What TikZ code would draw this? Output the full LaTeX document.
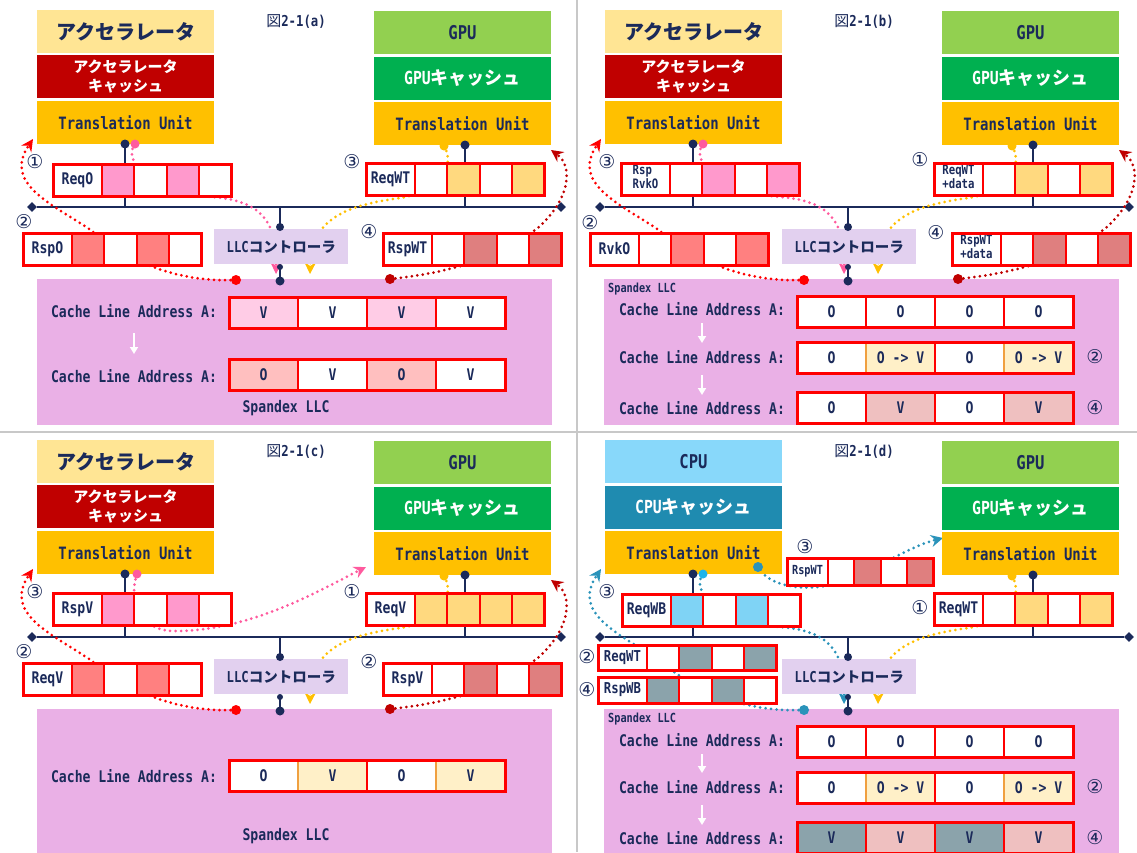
\documentclass[tikz,border=0pt]{standalone}
\usepackage{fontspec}
\setmainfont{Noto Sans CJK JP}
\newfontfamily\myjp{Noto Sans CJK JP}
\newfontfamily\mymono[FakeStretch=0.82]{DejaVu Sans Mono}
\newfontfamily\mycirc{DejaVu Sans}
\usetikzlibrary{shapes.geometric,arrows.meta}
\newcommand\fs[2]{\fontsize{#1}{#2}\selectfont}
\definecolor{cnavy}{HTML}{1B2A5A}
\definecolor{cred}{HTML}{FF0000}
\definecolor{cdred}{HTML}{C00000}
\definecolor{caccy}{HTML}{FFE594}
\definecolor{caccr}{HTML}{C00000}
\definecolor{ctu}{HTML}{FFC000}
\definecolor{cgpul}{HTML}{92D050}
\definecolor{cgpud}{HTML}{00B050}
\definecolor{ccpul}{HTML}{88D8FA}
\definecolor{ccpud}{HTML}{1F8BB0}
\definecolor{cllc}{HTML}{EAB0E6}
\definecolor{cctrl}{HTML}{E2D0EF}
\definecolor{cpinkd}{HTML}{FF5A9E}
\definecolor{cteal}{HTML}{2A93BA}
\definecolor{ccyan}{HTML}{1EB4EA}
\definecolor{pk}{HTML}{FF99CC}
\definecolor{sa}{HTML}{FF8080}
\definecolor{dp}{HTML}{DF7F7F}
\definecolor{ye}{HTML}{FFD97F}
\definecolor{bl}{HTML}{7FD3F5}
\definecolor{gr}{HTML}{8BA3AB}
\definecolor{lpk}{HTML}{FFCCE6}
\definecolor{lsa}{HTML}{FFBFBF}
\definecolor{lye}{HTML}{FFF0C8}
\definecolor{lro}{HTML}{EFC0C0}
\definecolor{cor}{HTML}{F0A040}
\definecolor{csep}{HTML}{C8C8C8}
\tikzset{
  compbox/.style={anchor=north west, minimum width=177, minimum height=43, inner sep=0pt, outer sep=0pt, align=center},
  titlejp/.style={font=\myjp\bfseries\fs{20}{24}, text=cnavy},
  titlemono/.style={font=\mymono\bfseries\fs{19}{22}, text=cnavy},
  cachetxt/.style={font=\myjp\bfseries\fs{15}{19}, text=white},
  cachemix/.style={font=\myjp\bfseries\fs{18}{22}, text=white},
  tutxt/.style={font=\mymono\bfseries\fs{17}{20}, text=cnavy},
  pcell/.style={anchor=north west, draw=cred, line width=2pt, inner sep=0pt, outer sep=0pt, align=center, text=cnavy, font=\mymono\bfseries\fs{16}{17}},
  lcell/.style={anchor=north west, line width=2pt, minimum width=69, minimum height=31, inner sep=0pt, outer sep=0pt, text=cnavy, font=\mymono\bfseries\fs{16}{18}},
  cnum/.style={font=\mycirc\fs{19}{20}, text=cnavy, inner sep=0pt},
  ctrlbox/.style={anchor=north west, fill=cctrl, minimum width=134, minimum height=35, inner sep=0pt, text=cnavy},
  llcbox/.style={anchor=north west, fill=cllc, minimum width=515, minimum height=146, inner sep=0pt, outer sep=0pt},
  cla/.style={font=\mymono\bfseries\fs{16}{18}, text=cnavy, inner sep=0pt},
  smallsp/.style={font=\mymono\bfseries\fs{12.5}{14}, text=cnavy, inner sep=0pt, anchor=west},
  figlbl/.style={text=cnavy, inner sep=0pt},
  busline/.style={draw=cnavy, line width=2.4pt},
  busend/.style={diamond, fill=cnavy, minimum width=10, minimum height=10, inner sep=0pt},
  ndot/.style={circle, fill=cnavy, inner sep=0pt},
  cdot/.style={circle, inner sep=0pt, minimum size=9},
  dline/.style={line width=3pt, line cap=round, dash pattern=on 0pt off 5.5pt, -{Stealth[length=12pt,width=12pt,inset=4pt]}},
  warrow/.style={draw=white, line width=2pt, -{Triangle[length=7pt,width=8pt]}},
  sepline/.style={draw=csep, line width=2.5pt},
}
\def\pktlw{49}\def\pktcw{32.25}\def\pkth{32}
\newcommand\pkt[5]{%
  \node[pcell, fill=white, minimum width=\pktlw, minimum height=\pkth] (#1-0) at (#2,#3) {#4};
  \foreach \fc [count=\i] in {#5} {\node[pcell, fill=\fc, minimum width=\pktcw, minimum height=\pkth] (#1-\i) at ({#2+\pktlw+(\i-1)*\pktcw},#3) {};}
  \draw[cred, line width=3pt] (#1-0.north west) rectangle (#1-4.south east);
}
\newcommand\lrow[4]{%
  \foreach \fc/\bc/\tx [count=\i] in {#4} {\node[lcell, fill=\fc, draw=\bc] (#1-\i) at ({#2+(\i-1)*69},#3) {\tx};}
  \draw[cred, line width=3pt] (#1-1.north west) rectangle (#1-4.south east);
}
\newcommand\qbase[1]{%
  \coordinate (#1-t1) at (125,144);
  \coordinate (#1-t2) at (465,145);
  \coordinate (#1-l1) at (280,227);
  \coordinate (#1-l2) at (280,267);
  \coordinate (#1-l3) at (280,281);
  \node[busend] (#1-bl) at (32,207) {};
  \node[busend] (#1-br) at (561,207) {};
  \draw[busline] (#1-bl) -- (#1-br);
  \draw[busline] (#1-t1) -- (#1-t1 |- #1-bl);
  \draw[busline] (#1-t2) -- (#1-t2 |- #1-bl);
  \draw[busline] (#1-l1 |- #1-bl) -- (#1-l1);
  \draw[busline] (#1-l2) -- (#1-l3);
}
\newcommand\qdots[1]{%
  \node[ndot, minimum size=9] (#1-t1d) at (#1-t1) {};
  \node[ndot, minimum size=9] (#1-t2d) at (#1-t2) {};
  \node[ndot, minimum size=8] (#1-l1d) at (#1-l1) {};
  \node[ndot, minimum size=6] (#1-l2d) at (#1-l2) {};
  \node[ndot, minimum size=9] (#1-l3d) at (#1-l3) {};
}
\newcommand\gpustack[1]{%
  \node[compbox, fill=cgpul, titlemono] (#1-gpu) at (374,11) {GPU};
  \node[compbox, fill=cgpud, cachemix] (#1-gpuc) at (374,57) {{\mymono GPU}キャッシュ};
  \node[compbox, fill=ctu, tutxt] (#1-gtu) at (374,102) {Translation Unit};
}
\newcommand\accstack[1]{%
  \node[compbox, fill=caccy, titlejp] (#1-acc) at (37,10) {アクセラレータ};
  \node[compbox, fill=caccr, cachetxt] (#1-accc) at (37,55) {アクセラレータ\\キャッシュ};
  \node[compbox, fill=ctu, tutxt] (#1-atu) at (37,101) {Translation Unit};
}
\newcommand\ctrl[1]{\node[ctrlbox] (#1-ctrl) at (214,229) {{\mymono\bfseries\fs{15}{18}LLC}{\myjp\bfseries\fs{14.5}{18}コントローラ}};}
\newcommand\pathP[2]{\coordinate (#1-ps) at (135,144); \coordinate (#1-pe) at (276,274);
  \draw[dline, #2] (#1-ps) .. controls (122,160) and (150,193) .. (213,197) .. controls (262,201) and (277,222) .. (#1-pe);}
\newcommand\pathY[2]{\coordinate (#1-ys) at (444,146); \coordinate (#1-ye) at (310,274);
  \draw[dline, #2] (#1-ys) .. controls (456,165) and (440,192) .. (400,198) .. controls (340,206) and (311,222) .. (#1-ye);}
\newcommand\pathR[2]{\coordinate (#1-rs) at (236,280); \coordinate (#1-re) at (33,139);
  \draw[dline, #2] (#1-rs) .. controls (170,283) and (120,255) .. (92,231) .. controls (55,205) and (2,185) .. (#1-re);}
\newcommand\pathD[2]{\coordinate (#1-ds) at (390,279); \coordinate (#1-de) at (551,150);
  \draw[dline, #2] (#1-ds) .. controls (460,272) and (510,252) .. (540,226) .. controls (572,196) and (572,165) .. (#1-de);}
\newcommand\figl[2]{\node[figlbl] (#1-fig) at (296,22) {{\myjp\fs{15}{18}図}{\mymono\bfseries\fs{15}{18}2-1(#2)}};}
\begin{document}
\begin{tikzpicture}[x=1pt,y=-1pt]
\useasboundingbox (0,0) rectangle (1137,852);
\fill[white] (0,0) rectangle (1137,852);
\draw[sepline] (577,0) -- (577,852);
\draw[sepline] (0,432) -- (1137,432);
% ================= (a)
\begin{scope}
\node[llcbox] (a-llc) at (37,279) {};
\qbase{a}
\pathP{a}{cpinkd}\pathY{a}{ctu}\pathR{a}{cred}\pathD{a}{cdred}
\pkt{a-p1}{53}{164}{ReqO}{pk,white,pk,white}
\pkt{a-p3}{366}{163}{ReqWT}{white,ye,white,ye}
\pkt{a-p2}{23}{233}{RspO}{sa,white,sa,white}
\pkt{a-p4}{383}{233}{RspWT}{white,dp,white,dp}
\ctrl{a}
\accstack{a}\gpustack{a}\qdots{a}
\node[cdot, fill=cpinkd] (a-pdot) at (a-ps) {};
\node[cdot, fill=ctu] (a-ydot) at (a-ys) {};
\node[cdot, fill=cred, minimum size=10] (a-rdot) at (a-rs) {};
\node[cdot, fill=cdred, minimum size=10] (a-ddot) at (a-ds) {};
\node[cnum] (a-n1) at (35,162) {①};
\node[cnum] (a-n3) at (352,162) {③};
\node[cnum] (a-n2) at (24,222) {②};
\node[cnum] (a-n4) at (369,232) {④};
\lrow{a-r1}{229}{297}{lpk/cred/V,white/cred/V,lpk/cred/V,white/cred/V}
\lrow{a-r2}{229}{359}{lsa/cred/O,white/cred/V,lsa/cred/O,white/cred/V}
\node[cla] (a-c1) at (134,311) {Cache Line Address A:};
\node[cla] (a-c2) at (134,376) {Cache Line Address A:};
\draw[warrow] ([yshift=-22pt]a-c1.center) -- ([yshift=22pt]a-c2.center);
\node[cla] (a-sp) at (286,408) {Spandex LLC};
\figl{a}{a}
\end{scope}
% ================= (b)
\begin{scope}[shift={(568,0)}]
\node[llcbox] (b-llc) at (36,279) {};
\qbase{b}
\pathP{b}{cpinkd}\pathY{b}{ctu}\pathR{b}{cred}\pathD{b}{cdred}
\pkt{b-p3}{53}{163}{\fs{13}{14}\begin{tabular}{@{}l@{}}Rsp\\RvkO\end{tabular}}{white,pk,white,pk}
\pkt{b-p1}{366}{163}{\fs{13}{14}\begin{tabular}{@{}l@{}}ReqWT\\+data\end{tabular}}{white,ye,white,ye}
\pkt{b-p2}{22}{233}{RvkO}{white,sa,white,sa}
\pkt{b-p4}{384}{233}{\fs{13}{14}\begin{tabular}{@{}l@{}}RspWT\\+data\end{tabular}}{white,dp,white,dp}
\ctrl{b}
\accstack{b}\gpustack{b}\qdots{b}
\node[cdot, fill=cpinkd] (b-pdot) at (b-ps) {};
\node[cdot, fill=ctu] (b-ydot) at (b-ys) {};
\node[cdot, fill=cred, minimum size=10] (b-rdot) at (b-rs) {};
\node[cdot, fill=cdred, minimum size=10] (b-ddot) at (b-ds) {};
\node[cnum] (b-n3) at (39,162) {③};
\node[cnum] (b-n1) at (352,160) {①};
\node[cnum] (b-n2) at (22,223) {②};
\node[cnum] (b-n4) at (368,233) {④};
\node[smallsp] (b-sp) at (40,289) {Spandex LLC};
\lrow{b-r1}{229}{296}{white/cred/O,white/cred/O,white/cred/O,white/cred/O}
\lrow{b-r2}{229}{342}{white/cred/O,lye/cor/O -> V,white/cred/O,lye/cor/O -> V}
\lrow{b-r3}{229}{392}{white/cred/O,lro/cred/V,white/cred/O,lro/cred/V}
\node[cla] (b-c1) at (134,309) {Cache Line Address A:};
\node[cla] (b-c2) at (134,357) {Cache Line Address A:};
\node[cla] (b-c3) at (134,408) {Cache Line Address A:};
\draw[warrow] ([yshift=-14pt]b-c1.center) -- ([yshift=14pt]b-c2.center);
\draw[warrow] ([yshift=-18pt]b-c2.center) -- ([yshift=13pt]b-c3.center);
\node[cnum] (b-m2) at (527,357) {②};
\node[cnum] (b-m4) at (527,408) {④};
\figl{b}{b}
\end{scope}
% ================= (c)
\begin{scope}[shift={(0,430)}]
\node[llcbox] (c-llc) at (37,279) {};
\qbase{c}
\coordinate (c-ps) at (137,144); \coordinate (c-pe) at (366,137);
\draw[dline, cpinkd] (c-ps) .. controls (128,170) and (140,200) .. (172,201) .. controls (250,202) and (320,160) .. (c-pe);
\pathY{c}{ctu}\pathR{c}{cred}\pathD{c}{cdred}
\pkt{c-p3}{53}{163}{RspV}{pk,white,pk,white}
\pkt{c-p1}{366}{163}{ReqV}{ye,ye,ye,ye}
\pkt{c-p2}{23}{233}{ReqV}{sa,white,sa,white}
\pkt{c-p4}{383}{233}{RspV}{white,dp,white,dp}
\ctrl{c}
\accstack{c}\gpustack{c}\qdots{c}
\node[cdot, fill=cpinkd] (c-pdot) at (c-ps) {};
\node[cdot, fill=ctu] (c-ydot) at (c-ys) {};
\node[cdot, fill=cred, minimum size=10] (c-rdot) at (c-rs) {};
\node[cdot, fill=cdred, minimum size=10] (c-ddot) at (c-ds) {};
\node[cnum] (c-n3) at (35,162) {③};
\node[cnum] (c-n1) at (352,162) {①};
\node[cnum] (c-n2) at (24,222) {②};
\node[cnum] (c-n4) at (369,232) {②};
\lrow{c-r1}{229}{330}{white/cred/O,lye/cor/V,white/cred/O,lye/cor/V}
\node[cla] (c-c1) at (134,346) {Cache Line Address A:};
\node[cla] (c-sp) at (286,406) {Spandex LLC};
\figl{c}{c}
\end{scope}
% ================= (d)
\begin{scope}[shift={(568,430)}]
\node[llcbox] (d-llc) at (36,279) {};
\qbase{d}
\pathP{d}{cteal}\pathY{d}{ctu}\pathR{d}{cteal}
\coordinate (d-ts) at (190,137); \coordinate (d-te) at (375,108);
\draw[dline, cteal] (d-ts) .. controls (202,160) and (252,165) .. (292,145) .. controls (322,130) and (347,115) .. (d-te);
\pkt{d-p3}{54}{164}{ReqWB}{bl,white,bl,white}
\pkt{d-p1}{366}{163}{ReqWT}{white,ye,white,ye}
\def\pkth{25}
\pkt{d-p2}{30}{215}{\fs{15}{16}ReqWT}{white,gr,white,gr}
\def\pkth{26}
\pkt{d-p4}{30}{247}{\fs{15}{16}RspWB}{gr,white,gr,white}
\def\pktlw{41}\def\pktcw{26.25}\def\pkth{27}
\pkt{d-p5}{219}{128}{\fs{12.5}{14}RspWT}{white,dp,white,dp}
\def\pktlw{49}\def\pktcw{32.25}\def\pkth{32}
\ctrl{d}
\node[compbox, fill=ccpul, titlemono] (d-cpu) at (37,10) {CPU};
\node[compbox, fill=ccpud, cachemix] (d-cpuc) at (37,56) {{\mymono CPU}キャッシュ};
\node[compbox, fill=ctu, tutxt] (d-ctu) at (37,101) {Translation Unit};
\gpustack{d}\qdots{d}
\node[cdot, fill=ccyan] (d-pdot) at (d-ps) {};
\node[cdot, fill=ctu] (d-ydot) at (d-ys) {};
\node[cdot, fill=cteal, minimum size=10] (d-rdot) at (d-rs) {};
\node[cdot, fill=cteal, minimum size=10] (d-tdot) at (d-ts) {};
\node[cnum] (d-n3) at (39,162) {③};
\node[cnum] (d-n1) at (352,178) {①};
\node[cnum] (d-n5) at (237,117) {③};
\node[cnum] (d-n2) at (19,227) {②};
\node[cnum] (d-n4) at (19,260) {④};
\node[smallsp] (d-sp) at (40,289) {Spandex LLC};
\lrow{d-r1}{229}{296}{white/cred/O,white/cred/O,white/cred/O,white/cred/O}
\lrow{d-r2}{229}{342}{white/cred/O,lye/cor/O -> V,white/cred/O,lye/cor/O -> V}
\lrow{d-r3}{229}{392}{gr/cred/V,lro/cred/V,gr/cred/V,lro/cred/V}
\node[cla] (d-c1) at (134,310) {Cache Line Address A:};
\node[cla] (d-c2) at (134,357) {Cache Line Address A:};
\node[cla] (d-c3) at (134,408) {Cache Line Address A:};
\draw[warrow] ([yshift=-14pt]d-c1.center) -- ([yshift=14pt]d-c2.center);
\draw[warrow] ([yshift=-18pt]d-c2.center) -- ([yshift=13pt]d-c3.center);
\node[cnum] (d-m2) at (527,357) {②};
\node[cnum] (d-m4) at (527,408) {④};
\figl{d}{d}
\end{scope}
\end{tikzpicture}
\end{document}
